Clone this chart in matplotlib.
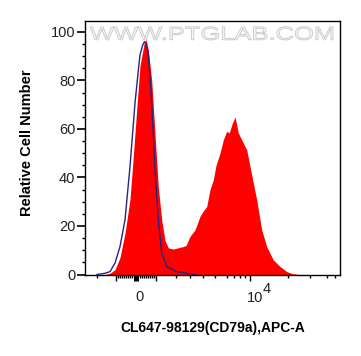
import matplotlib
matplotlib.use('Agg')
import matplotlib.pyplot as plt
from matplotlib.textpath import TextPath
from matplotlib.patches import PathPatch
from matplotlib.font_manager import FontProperties
from matplotlib.transforms import Affine2D

plt.rcParams['font.family'] = ['Liberation Sans', 'DejaVu Sans']

# display channel (0-255 across the plot) vs relative cell number
sample_x = [20, 25, 30, 35, 40, 45, 48, 51.7, 55, 59, 61, 63.3, 66.7, 70, 73.3,
            76.7, 80, 83.3, 88, 93, 98, 101, 105, 110, 115, 118, 121.7, 125,
            128.3, 131, 135, 138.3, 141.7, 144.3, 147, 150, 153.3, 156.7,
            161.7, 166.7, 171.7, 176.7, 181.7, 188.3, 195, 201.7, 208, 215]
sample_y = [0, 0.5, 2, 7, 17, 31, 47, 68, 86, 95, 97, 92.6, 80, 58, 36,
            22.5, 14, 11, 10.5, 11, 11.5, 12, 15.7, 18.4, 24, 26, 28, 35,
            39, 45, 50, 55.5, 59, 58.4, 62, 65, 58.4, 55.5,
            51.4, 41, 30.8, 18.4, 11.5, 6, 3.3, 1.2, 0.3, 0]

control_x = [12, 20, 25, 30, 35, 40, 45, 50, 53.3, 55, 57.7, 59.5, 61, 63.3,
             66.7, 70, 73.3, 76.7, 81.7, 91.7, 105, 110]
control_y = [0, 0.5, 1.2, 4.7, 11.5, 22.5, 44.5, 70.7, 84, 90.5, 94.6, 96, 95, 91,
             70.7, 43, 22.5, 8.8, 3.3, 1.2, 0.3, 0]

xtick_major = [31, 51, 71, 165]
xtick_minor = ([12] + list(range(33, 48, 2)) + list(range(55, 70, 2)) +
               [90.5, 104.5, 117.5, 130, 141.5, 149, 155, 159.5, 203, 225, 242, 250])
ytick_major = [0, 20, 40, 60, 80, 100]
ytick_minor = [5, 10, 15, 25, 30, 35, 45, 50, 55, 65, 70, 75, 85, 90, 95]

fig = plt.figure(figsize=(3.61, 3.56), dpi=100)
ax = fig.add_axes([85 / 361, 81 / 356, 255 / 361, 254 / 356])

ax.fill_between(sample_x, sample_y, color='#ff0000', lw=0, zorder=2)
ax.plot(control_x, control_y, color='#25257f', lw=1.0, zorder=3)

ax.set_xlim(0, 255)
ax.set_ylim(-0.2, 104.5)

ax.set_xticks(xtick_major, [''] * len(xtick_major))
ax.set_xticks(xtick_minor, minor=True)
ax.set_yticks(ytick_major)
ax.set_yticks(ytick_minor, minor=True)

ax.tick_params(axis='x', which='major', length=4, width=1)
ax.tick_params(axis='x', which='minor', length=2.4, width=1)
ax.tick_params(axis='y', which='major', length=5.5, width=1.2, pad=1.5,
               labelsize=10.5, labelcolor='#222222')
ax.tick_params(axis='y', which='minor', length=2.5, width=1)
ax.xaxis.get_major_ticks()[1].tick1line.set_markeredgewidth(3.6)

# x tick labels (biexponential axis): "0" and "10" with a full-size raised "4"
xt = ax.get_xaxis_transform()
ax.text(54, -0.088, '0', transform=xt, ha='center', va='center', fontsize=10.5, color='#222222')
ax.text(170, -0.090, '10', transform=xt, ha='center', va='center', fontsize=10.5, color='#222222')
ax.text(178, -0.057, '4', transform=xt, ha='left', va='center', fontsize=10.5, color='#222222')

for s in ax.spines.values():
    s.set_linewidth(1.0)

ax.set_xlabel('CL647-98129(CD79a),APC-A', fontsize=10, fontweight='bold', va='center')
ax.xaxis.set_label_coords(0.5, -0.209)
ax.set_ylabel('Relative Cell Number', fontsize=10.5, fontweight='bold', va='center')
ax.yaxis.set_label_coords(-0.227, 0.52)

# watermark
tp = TextPath((0, 0), 'WWW.PTGLAB.COM', size=1, prop=FontProperties(family='Liberation Sans'))
bb = tp.get_extents()
tr = Affine2D().translate(-bb.x0, -bb.y0).scale(243 / bb.width, 13.3 / bb.height).translate(90, 316)
fig.add_artist(PathPatch(tp, transform=tr, facecolor='#f6f6f6', edgecolor='#c6c6c6',
                         lw=0.6, zorder=5))

fig.savefig('out.png', dpi=100)
